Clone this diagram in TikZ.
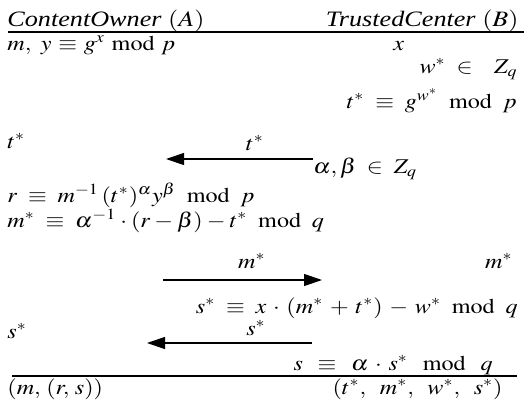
\documentclass[tikz,border=0pt]{standalone}
\usepackage{graphicx}
\usepackage{mathptmx}
\usepackage[no-math]{fontspec}
\setmainfont{Liberation Serif}
\usetikzlibrary{arrows.meta}
\thickmuskip=8mu
\medmuskip=5mu
\newcommand{\stretched}[1]{\scalebox{1.15}[1]{#1}}
\newcommand{\hdr}[1]{\scalebox{1.19}[1]{#1}}
\newcommand{\md}{\;\mathrm{mod}\;}

\begin{document}
\begin{tikzpicture}[x=0.5pt,y=-0.5pt,
txt/.style={inner sep=0pt,font=\fontsize{10.5}{12}\selectfont},
west/.style={txt,anchor=base west},
east/.style={txt,anchor=base east},
lbl/.style={txt,anchor=base},
party/.style={inner sep=0pt,font=\fontsize{11}{13}\selectfont},
msg/.style={-{Triangle[length=9pt,width=6pt]},line width=0.6pt},
rule/.style={line width=0.6pt}
]
\useasboundingbox (0,0) rectangle (524,412);
% parties
\node[party,anchor=base west] (owner) at (7,26) {\hdr{\textit{ContentOwner} $(A)$}};
\node[party,anchor=base east] (center) at (519,26) {\hdr{\textit{TrustedCenter} $(B)$}};
\coordinate (topL) at (8,32);
\coordinate (topR) at (524,32);
\draw[rule] (topL) -- (topR);
% setup
\node[west] (a1) at (7,50) {\stretched{\thickmuskip=5mu$m,\; y \equiv g^{x} \md p$}};
\node[west] (b1) at (393,50) {\stretched{$x$}};
\node[east] (b2) at (518,73) {\stretched{$w^{*} \in\; Z_{q}$}};
\node[east] (b3) at (517,108) {\stretched{$t^{*} \equiv g^{w^{*}} \md p$}};
% first message
\node[west] (a2) at (7,148) {\stretched{$t^{*}$}};
\node[lbl] (msgT) at (255,150) {\stretched{$t^{*}$}};
\coordinate (m1B) at (313,159);
\coordinate (m1A) at (166,159);
\draw[msg] (m1B) -- (m1A);
\node[west] (b4) at (313,173) {\stretched{$\alpha, \beta \in Z_{q}$}};
\node[west] (a3) at (7,202) {\stretched{$r \equiv m^{-1}\,(t^{*})^{\alpha}y^{\beta} \md p$}};
\node[west] (a4) at (7,227) {\stretched{\medmuskip=3mu$m^{*} \equiv \alpha^{-1}\cdot(r-\beta)-t^{*} \md q$}};
% second message
\node[lbl] (msgM) at (252,268) {\stretched{$m^{*}$}};
\node[east] (b5) at (513,268) {\stretched{$m^{*}$}};
\coordinate (m2A) at (163,280);
\coordinate (m2B) at (322,280);
\draw[msg] (m2A) -- (m2B);
\node[east] (b6) at (518,313) {\stretched{$s^{*} \equiv x\cdot(m^{*}+t^{*})-w^{*} \md q$}};
% third message
\node[west] (a5) at (7,338) {\stretched{$s^{*}$}};
\node[lbl] (msgS) at (256,335) {\stretched{$s^{*}$}};
\coordinate (m3B) at (312,343);
\coordinate (m3A) at (147,343);
\draw[msg] (m3B) -- (m3A);
\node[east] (b7) at (493,370) {\stretched{\thickmuskip=11mu$s \equiv \alpha\cdot s^{*} \md q$}};
\coordinate (botL) at (12,376);
\coordinate (botR) at (517,376);
\draw[rule] (botL) -- (botR);
% results
\node[west] (a6) at (7,394) {\stretched{$(m,\,(r,\,s))$}};
\node[east] (b8) at (503,394) {\stretched{$(t^{*},\;m^{*},\;w^{*},\;s^{*})$}};
\end{tikzpicture}
\end{document}
